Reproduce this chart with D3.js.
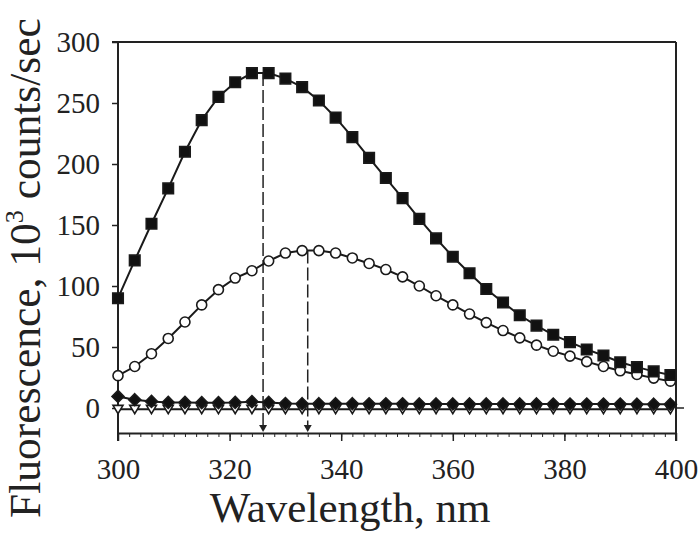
<!DOCTYPE html>
<html lang="en">
<head>
<meta charset="UTF-8">
<title>Fluorescence spectra</title>
<script src="https://d3js.org/d3.v7.min.js"></script>
<style>
    body { margin: 0; background: #fff; }
    svg { display: block; }
    text { font-family: "Liberation Serif", "Times New Roman", serif; fill: #222; }
</style>
</head>
<body>
<svg id="chart" width="700" height="537"></svg>
<script>
// wavelengths (nm), one point every 3 nm
const wavelengths = [300, 303, 306, 309, 312, 315, 318, 321, 324, 327, 330, 333, 336, 339, 342, 345, 348,
    351, 354, 357, 360, 363, 366, 369, 372, 375, 378, 381, 384, 387, 390, 393, 396, 399];

// filled squares
const squares = [90, 121, 151, 180, 210, 236, 255, 267, 274.5, 274.5, 270, 263, 252, 238, 222, 205, 188.5,
    172, 155, 139, 124, 110.5, 97.5, 86.5, 76, 67.5, 60, 54, 48, 43, 37.5, 33.5, 30, 27];
// open circles
const circles = [26.5, 34, 44.5, 57, 70.5, 84.5, 97, 106.5, 112.5, 120.5, 127, 129, 129, 127, 123, 118.5, 113.5,
    107.5, 100, 92, 84.5, 77, 70, 63.5, 57.5, 51.5, 46.5, 42.5, 38, 34, 30.5, 27.5, 24.5, 22];
// filled diamonds
const diamonds = [9.5, 6.8, 5.4, 4.6, 4.6, 4.4, 4.4, 4.6, 5.2, 4.6, 3.6, 3.5, 3.5, 3.5, 3.5, 3.4, 3.4,
    3.4, 3.3, 3.3, 3.3, 3.3, 3.3, 3.3, 3.3, 3.3, 3.2, 3.2, 3.2, 3.2, 3.2, 3.1, 3.1, 3.1];
// open down-triangles
const triangles = [-1, -1, -1, -1, -1, -1, -1, -1, -1, -1, -1, -1, -1, -1, -1, -1, -1,
    -1, -1, -1, -1, -1, -1, -1, -1, -1, -1, -1, -1, -1, -1, -1, -1, -1];

// emission maxima marked with dashed arrows
const peaks = [{x: 326, y: 274.5}, {x: 334, y: 129}];

const xTicks = [300, 320, 340, 360, 380, 400];
const yTicks = [0, 50, 100, 150, 200, 250, 300];

const serif = '"Liberation Serif", "Times New Roman", serif';
const svg = d3.select("#chart");
const plotLeft = 118, plotRight = 676, plotTop = 42, zeroY = 408, plotBottom = 433;

const x = d3.scaleLinear().domain([300, 400]).range([plotLeft, plotRight]);
const y = d3.scaleLinear().domain([0, 300]).range([zeroY, plotTop]);

// frame: top and right edges
svg.append("line").attr("x1", plotLeft - 6).attr("x2", plotRight).attr("y1", plotTop).attr("y2", plotTop)
    .attr("stroke", "#222").attr("stroke-width", 2);
svg.append("line").attr("x1", plotRight).attr("x2", plotRight).attr("y1", plotTop).attr("y2", plotBottom + 8)
    .attr("stroke", "#222").attr("stroke-width", 2);
svg.append("line").attr("x1", plotRight).attr("x2", plotRight + 8).attr("y1", y(0)).attr("y2", y(0))
    .attr("stroke", "#222").attr("stroke-width", 1.5);

// y axis
const yAxis = svg.append("g")
    .attr("transform", `translate(${plotLeft},0)`)
    .call(d3.axisLeft(y).tickValues(yTicks).tickSize(6).tickPadding(12).tickFormat(d3.format("d")))
    .attr("font-family", serif).attr("font-size", 29);
yAxis.select(".domain").attr("d", `M0,${plotTop}V${plotBottom + 8}`).attr("stroke", "#222").attr("stroke-width", 2);
yAxis.selectAll(".tick line").attr("stroke", "#222").attr("stroke-width", 1.5);
yAxis.selectAll("text").attr("fill", "#222");

// x axis: minor ticks every 2 nm, then major ticks with labels
const xMinor = svg.append("g")
    .attr("transform", `translate(0,${plotBottom})`)
    .call(d3.axisBottom(x).ticks(50).tickSize(4).tickFormat(""));
xMinor.select(".domain").remove();
xMinor.selectAll(".tick line").attr("stroke", "#222").attr("stroke-width", 1);

const xAxis = svg.append("g")
    .attr("transform", `translate(0,${plotBottom})`)
    .call(d3.axisBottom(x).tickValues(xTicks).tickSize(8).tickPadding(17).tickSizeOuter(0))
    .attr("font-family", serif).attr("font-size", 29);
xAxis.select(".domain").attr("stroke", "#222").attr("stroke-width", 2);
xAxis.selectAll(".tick line").attr("stroke", "#222").attr("stroke-width", 1.5);
xAxis.selectAll("text").attr("fill", "#222");

// axis titles
svg.append("text")
    .attr("x", 350).attr("y", 522)
    .attr("text-anchor", "middle")
    .attr("font-size", 43)
    .text("Wavelength, nm");

const yTitle = svg.append("text")
    .attr("transform", "translate(40,268) rotate(-90)")
    .attr("text-anchor", "middle")
    .attr("font-size", 43.5);
yTitle.append("tspan").text("Fluorescence, 10");
yTitle.append("tspan").attr("font-size", 26).attr("dy", -17).text("3");
yTitle.append("tspan").attr("dy", 17).text(" counts/sec");

// dashed drop lines to the axis with arrow heads
const drops = svg.append("g");
drops.selectAll("line")
    .data(peaks)
    .join("line")
    .attr("x1", d => x(d.x)).attr("x2", d => x(d.x))
    .attr("y1", d => y(d.y)).attr("y2", plotBottom - 6)
    .attr("stroke", "#222").attr("stroke-width", 1.5)
    .attr("stroke-dasharray", "13,4");
drops.selectAll("path")
    .data(peaks)
    .join("path")
    .attr("d", d => `M${x(d.x) - 4},${plotBottom - 8}L${x(d.x) + 4},${plotBottom - 8}L${x(d.x)},${plotBottom - 1}Z`)
    .attr("fill", "#222");

const line = d3.line().x(d => x(d[0])).y(d => y(d[1]));

function drawSeries(values, shape, size, fill) {
    const pts = wavelengths.map((w, i) => [w, values[i]]);
    const g = svg.append("g");
    g.append("path")
        .attr("d", line(pts))
        .attr("fill", "none")
        .attr("stroke", "#1a1a1a")
        .attr("stroke-width", 2);
    g.selectAll("path.mark")
        .data(pts)
        .join("path")
        .attr("class", "mark")
        .attr("transform", d => `translate(${x(d[0])},${y(d[1])})`)
        .attr("d", shape(size))
        .attr("fill", fill)
        .attr("stroke", "#1a1a1a")
        .attr("stroke-width", 1.6);
}

const square = s => `M${-s / 2},${-s / 2}h${s}v${s}h${-s}Z`;
const circle = s => d3.symbol(d3.symbolCircle, Math.PI * s * s / 4)();
const diamond = s => `M0,${-s / 2}L${s / 2},0L0,${s / 2}L${-s / 2},0Z`;
const triDown = s => `M${-s / 2},${-s / 2.6}L${s / 2},${-s / 2.6}L0,${s / 2.2}Z`;

drawSeries(triangles, triDown, 10, "#fff");
drawSeries(diamonds, diamond, 12, "#111");
drawSeries(circles, circle, 10, "#fff");
drawSeries(squares, square, 10.5, "#111");
</script>
</body>
</html>
